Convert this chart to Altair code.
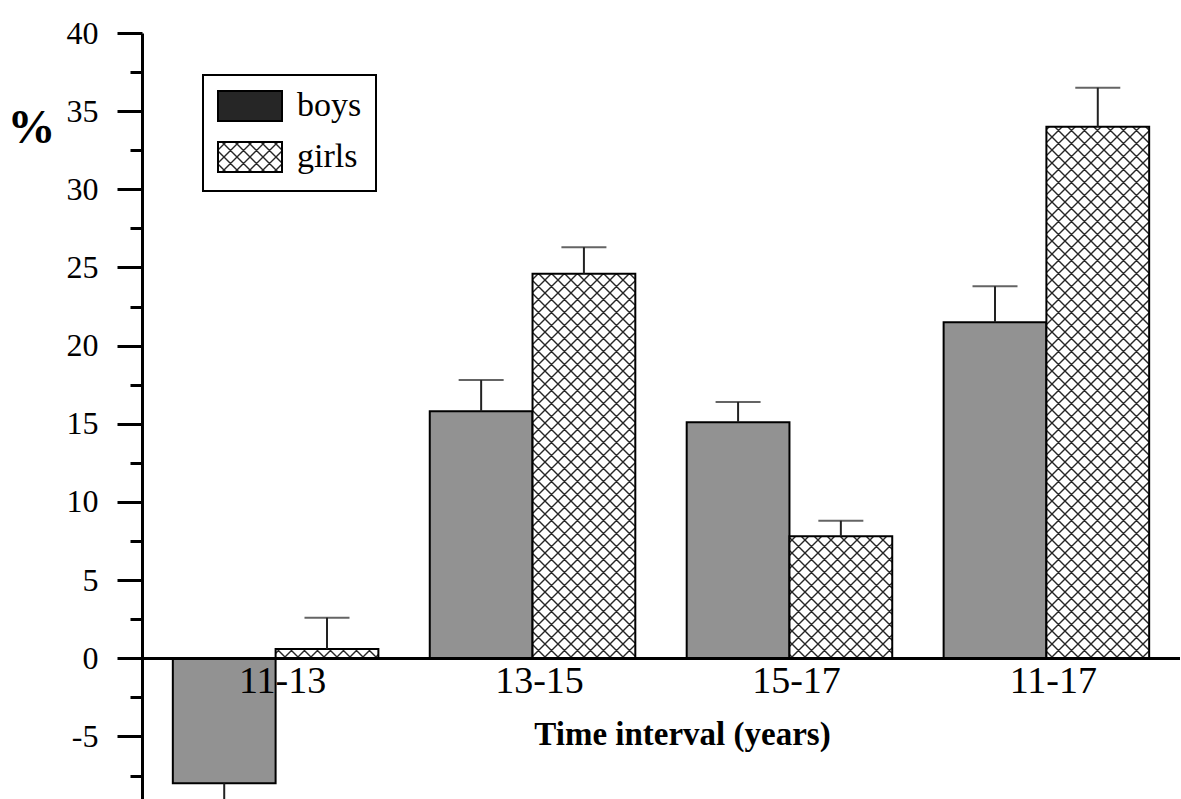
import altair as alt
import pandas as pd
import altair.utils.html as _html

# ---------------- data ----------------
intervals = ["11-13", "13-15", "15-17", "11-17"]
sexes = ["boys", "girls"]
boys = [-8.0, 15.8, 15.1, 21.5]
girls = [0.6, 24.6, 7.8, 34.0]
boys_se = [1.6, 2.0, 1.3, 2.3]
girls_se = [2.0, 1.7, 1.0, 2.5]
y_tick_values = [-7.5, -5, -2.5, 0, 2.5, 5, 7.5, 10, 12.5, 15, 17.5, 20,
                 22.5, 25, 27.5, 30, 32.5, 35, 37.5, 40]

rows = []
for i, iv in enumerate(intervals):
    for sex, vals, ses in (("boys", boys, boys_se), ("girls", girls, girls_se)):
        v = vals[i]
        se = ses[i]
        end = v + se if v >= 0 else v - se
        rows.append({"interval": iv, "sex": sex, "value": v, "err": end})
df = pd.DataFrame(rows)

# ---------------- cross-hatch pattern injected into the page ----------------
DEFS = (
    '<svg width="0" height="0" style="position:absolute;left:0;top:0">'
    '<defs><pattern id="xhatch" patternUnits="userSpaceOnUse" width="13" height="13">'
    '<rect width="13" height="13" fill="#ffffff"/>'
    '<path d="M0,0L13,13M13,0L0,13M-3,10L3,16M10,-3L16,3M-3,3L3,-3M10,16L16,10" '
    'stroke="#262626" stroke-width="1.4" fill="none"/>'
    '</pattern></defs></svg>'
)


class _Tpl:
    def __init__(self, t):
        self.t = t

    def render(self, *a, **k):
        out = self.t.render(*a, **k)
        i = out.find('<div id=')
        if i >= 0:
            return out[:i] + DEFS + out[i:]
        return out + DEFS


for _k in list(_html.TEMPLATES):
    _html.TEMPLATES[_k] = _Tpl(_html.TEMPLATES[_k])

SERIF = "Liberation Serif"

# ---------------- encodings ----------------
x_enc = alt.X(
    "interval:N",
    sort=intervals,
    scale=alt.Scale(paddingInner=0.2, paddingOuter=0.12),
    axis=alt.Axis(
        title="Time interval (years)",
        orient="bottom",
        offset=-141,
        domainWidth=3,
        domainColor="black",
        ticks=False,
        labelAngle=0,
        labelFont=SERIF,
        labelFontSize=38,
        labelColor="black",
        labelPadding=4,
        labelOffset=7,
        titleFont=SERIF,
        titleFontSize=33,
        titleFontWeight="bold",
        titleColor="black",
        titlePadding=18,
        titleX=540,
        zindex=1,
    ),
)
xo_enc = alt.XOffset("sex:N", sort=sexes, scale=alt.Scale(paddingInner=0, paddingOuter=0))
y_enc = alt.Y(
    "value:Q",
    scale=alt.Scale(domain=[-9, 40], nice=False, zero=False),
    axis=alt.Axis(
        values=y_tick_values,
        title="%",
        titleAngle=0,
        titleX=-111,
        titleY=95,
        titleAlign="center",
        titleBaseline="middle",
        titleFont=SERIF,
        titleFontSize=48,
        titleFontWeight="bold",
        titleColor="black",
        domainWidth=3,
        domainColor="black",
        tickColor="black",
        tickWidth=3,
        tickSize={"condition": {"test": "datum.value % 5 === 0", "value": 25}, "value": 12},
        labelExpr="datum.value % 5 === 0 ? '' + datum.value : ''",
        labelFont=SERIF,
        labelFontSize=32,
        labelColor="black",
        labelPadding=19,
        labelOverlap=False,
        labelFlush=False,
        grid=False,
    ),
)
fill_enc = alt.Fill(
    "sex:N",
    sort=sexes,
    scale=alt.Scale(domain=sexes, range=["#262626", "url(#xhatch)"]),
    legend=alt.Legend(
        title=None,
        orient="none",
        legendX=61,
        legendY=42,
        symbolType="M-2,-0.94H2V0.94H-2Z",
        symbolSize=1024,
        symbolOffset=16,
        symbolStrokeColor="black",
        symbolStrokeWidth=2,
        labelFont=SERIF,
        labelFontSize=34,
        labelColor="black",
        labelOffset=30,
        rowPadding=11,
        padding=14,
        strokeColor="black",
    ),
)

base = alt.Chart(df)

bars_boys = base.transform_filter(alt.datum.sex == "boys").mark_bar(
    fillOpacity=0.5, stroke="black", strokeWidth=2
).encode(x=x_enc, xOffset=xo_enc, y=y_enc, y2=alt.datum(0), fill=fill_enc)

bars_girls = base.transform_filter(alt.datum.sex == "girls").mark_bar(
    stroke="black", strokeWidth=2
).encode(x=x_enc, xOffset=xo_enc, y=y_enc, y2=alt.datum(0), fill=fill_enc)

err_rules = base.mark_rule(color="#222222", strokeWidth=2).encode(
    x=alt.X("interval:N", sort=intervals),
    xOffset=alt.XOffset("sex:N", sort=sexes),
    y="value:Q",
    y2="err:Q",
)

err_caps = base.mark_tick(color="#222222", thickness=2, size=45, orient="horizontal").encode(
    x=alt.X("interval:N", sort=intervals),
    xOffset=alt.XOffset("sex:N", sort=sexes),
    y="err:Q",
)

chart = (
    alt.layer(bars_boys, bars_girls, err_rules, err_caps)
    .properties(
        width=1038,
        height=766,
        autosize=alt.AutoSizeParams(type="none"),
        padding={"left": 142, "top": 33, "right": 0, "bottom": 0},
        background="white",
    )
    .configure_view(stroke=None)
    .configure_legend(strokeWidth=2)
)

chart.save("out.html", embed_options={"renderer": "svg", "actions": False})
